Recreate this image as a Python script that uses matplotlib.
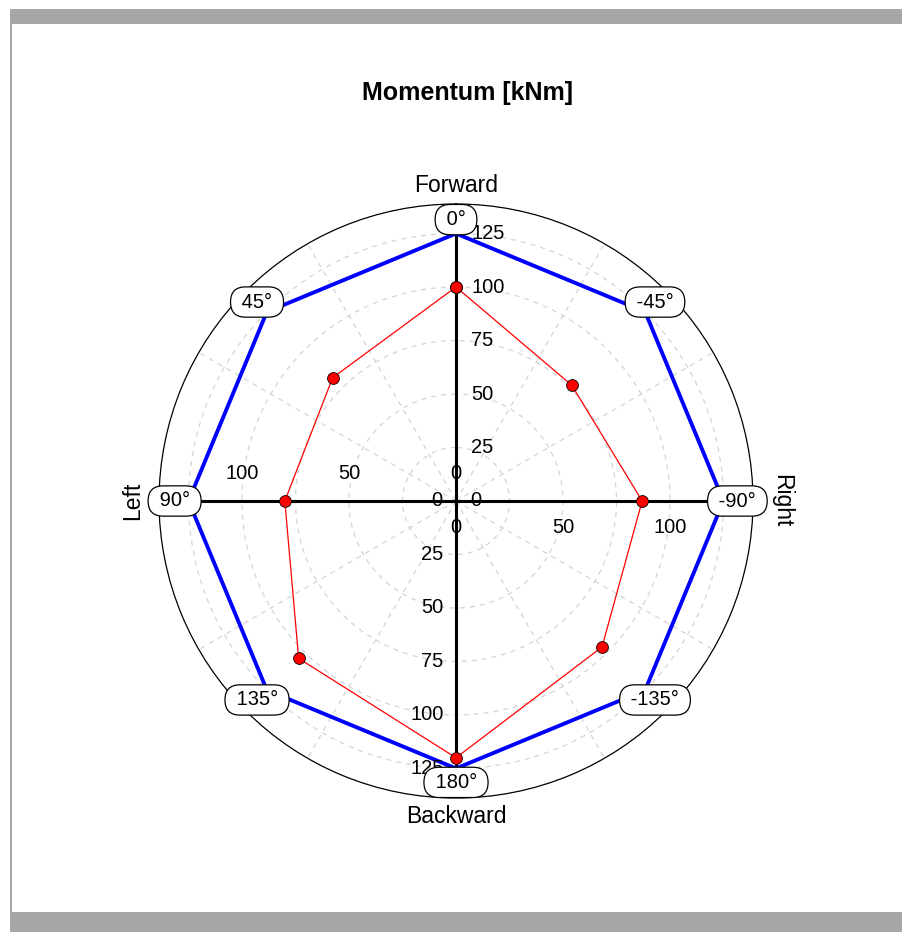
import numpy as np
import matplotlib.pyplot as plt
from matplotlib.patches import Rectangle

# directions (deg, counter-clockwise from Forward) and their labels
angles_deg = [0, 45, 90, 135, 180, 225, 270, 315]
angle_labels = ['0°', '45°', '90°', '135°', '180°', '-135°', '-90°', '-45°']
momentum = [100, 81.5, 80, 104, 120, 96.5, 87, 76.5]
limit = [125, 125, 125, 125, 125, 125, 125, 125]
r_ticks = [25, 50, 75, 100, 125]
side_ticks = [50, 100]

FONT = 'Liberation Sans'
plt.rcParams['font.family'] = [FONT, 'DejaVu Sans']

fig = plt.figure(figsize=(9.03, 9.32), dpi=100)

# grey frame bits
fig.add_artist(Rectangle((10 / 903, 1 - 24 / 932), 893 / 903, 15 / 932,
                         transform=fig.transFigure, color='#a6a6a6', lw=0))
fig.add_artist(Rectangle((10 / 903, 0), 893 / 903, 20 / 932,
                         transform=fig.transFigure, color='#a6a6a6', lw=0))
fig.add_artist(Rectangle((10 / 903, 20 / 932), 2 / 903, 890 / 932,
                         transform=fig.transFigure, color='#a6a6a6', lw=0))

fig.text(468 / 903, 1 - 93 / 932, 'Momentum [kNm]', ha='center', va='center',
         fontsize=18, fontweight='bold')

cx, cy, rad = 456, 501, 297
ax = fig.add_axes([(cx - rad) / 903, (932 - cy - rad) / 932, 2 * rad / 903, 2 * rad / 932],
                  projection='polar')
ax.set_theta_zero_location('N')
ax.set_theta_direction(1)
ax.set_ylim(0, 138.8)
ax.set_rticks(r_ticks)
ax.set_yticklabels([])
ax.set_xticks(np.deg2rad(np.arange(0, 360, 30)))
ax.set_xticklabels([])
ax.tick_params(length=0)
ax.grid(True, color='#d4d4d4', lw=0.9, ls=(0, (4, 4)))
ax.spines['polar'].set_linewidth(0.9)
ax.spines['polar'].set_color('black')

th = np.deg2rad(angles_deg + [angles_deg[0]])

# cross axes
for a in [0, 90, 180, 270]:
    ax.plot([np.deg2rad(a)] * 2, [0, 125], color='black', lw=2.2, zorder=3,
            solid_capstyle='butt')

ax.plot(th, limit + [limit[0]], color='#0000ff', lw=2.8, zorder=4)
ax.plot(th, momentum + [momentum[0]], color='#ff0000', lw=0.9, zorder=5,
        marker='o', markersize=8.5, markerfacecolor='#ff0000',
        markeredgecolor='black', markeredgewidth=0.6)

# axis numbers
tk = dict(fontsize=14.5, textcoords='offset points', va='center', zorder=6)
ax.annotate('0', (0, 0), xytext=(0, 20), ha='center', **tk)
ax.annotate('0', (0, 0), xytext=(0, -19), ha='center', **tk)
ax.annotate('0', (0, 0), xytext=(-14, 0), ha='center', **tk)
ax.annotate('0', (0, 0), xytext=(14, 0), ha='center', **tk)
for v in r_ticks:
    ax.annotate(str(v), (0, v), xytext=(11, 0), ha='left', **tk)
    ax.annotate(str(v), (np.pi, v), xytext=(-9, 0), ha='right', **tk)
for v in side_ticks:
    ax.annotate(str(v), (np.pi / 2, v), xytext=(0, 20), ha='center', **tk)
    ax.annotate(str(v), (3 * np.pi / 2, v), xytext=(0, -19), ha='center', **tk)

# direction labels
for a, lab in zip(angles_deg, angle_labels):
    ax.text(np.deg2rad(a), 131.5, ' ' + lab + ' ', ha='center', va='center',
            fontsize=14.5, zorder=8,
            bbox=dict(boxstyle='round,pad=0.28,rounding_size=0.75', fc='white',
                      ec='black', lw=0.9))

ax.text(0, 147.5, 'Forward', ha='center', va='center', fontsize=16.5)
ax.text(np.pi, 147.5, 'Backward', ha='center', va='center', fontsize=16.5)
ax.text(np.pi / 2, 151, 'Left', ha='center', va='center', fontsize=16.5, rotation=90)
ax.text(3 * np.pi / 2, 152, 'Right', ha='center', va='center', fontsize=16.5, rotation=-90)

fig.savefig('out.png', dpi=100)
